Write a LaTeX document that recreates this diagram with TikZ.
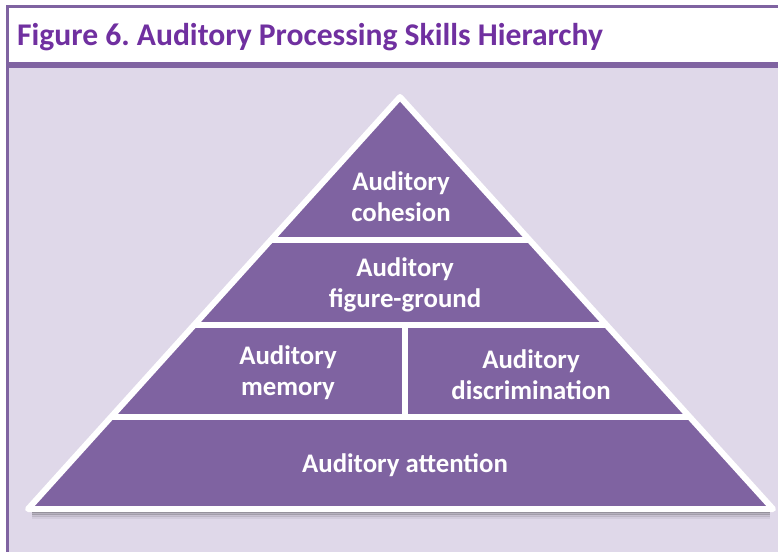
\documentclass[tikz,border=0pt]{standalone}
\usepackage{fontspec}
\setmainfont{Carlito}
\frenchspacing
\definecolor{pyr}{HTML}{7F63A1}
\definecolor{lav}{HTML}{DFD8E9}
\definecolor{ttl}{HTML}{7030A0}
\tikzset{
  lbl/.style={text=white,font=\fontsize{26.8}{31}\selectfont\bfseries,align=center,inner sep=0pt},
  sep/.style={white,line width=6pt}
}
\begin{document}
\begin{tikzpicture}[x=1pt,y=-1pt]
\useasboundingbox (0,0) rectangle (778,552);
% frame
\fill[white] (0,0) rectangle (778,552);
\fill[pyr] (6,5) rectangle (778,8);
\fill[pyr] (6,5) rectangle (9,552);
\fill[pyr] (9,62) rectangle (778,68);
\fill[lav] (9,68) rectangle (778,552);
\node[anchor=base west,text=ttl,font=\fontsize{31.6}{36}\selectfont\bfseries,inner sep=0pt] (title) at (17,45) {Figure 6. Auditory Processing Skills Hierarchy};
% shadow
\foreach \d/\o in {2/0.25,4/0.18,6/0.1,8/0.05}{
  \draw[black,opacity=\o,line width=3pt] (32,509+\d) -- (770,509+\d);
}
% pyramid
\coordinate (A) at (400,97);
\coordinate (L) at (28,509);
\coordinate (R) at (773,509);
\fill[pyr] (A) -- (L) -- (R) -- cycle;
\begin{scope}
\clip (A) -- (L) -- (R) -- cycle;
\draw[sep] (0,240) -- (778,240);
\draw[sep] (0,325) -- (778,325);
\draw[sep] (0,417) -- (778,417);
\draw[sep] (405,325) -- (405,417);
\end{scope}
\draw[white,line width=6pt,line join=round] (A) -- (L) -- (R) -- cycle;
% labels
\node[lbl] (coh) at (401,197) {Auditory\\cohesion};
\node[lbl] (fg) at (405,285) {Auditory\\figure-ground};
\node[lbl] (mem) at (288,373) {Auditory\\memory};
\node[lbl] (dis) at (531,375) {Auditory\\discrimination};
\node[lbl] (att) at (405,465) {Auditory attention};
\end{tikzpicture}
\end{document}
